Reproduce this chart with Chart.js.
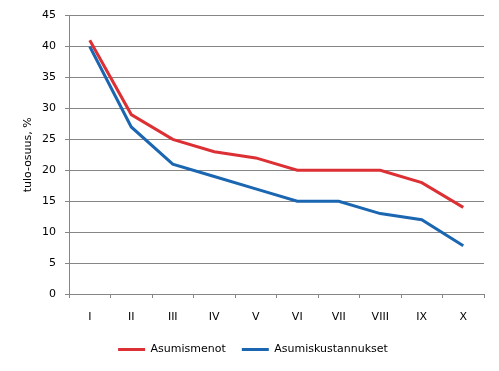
<!DOCTYPE html>
<html>
<head>
<meta charset="utf-8">
<script src="https://cdn.jsdelivr.net/npm/chart.js@4"></script>
<style>
  html, body { margin: 0; padding: 0; background: #fff; }
  #wrap { width: 499px; height: 371px; }
</style>
</head>
<body>
<div id="wrap"><canvas id="chart" width="499" height="371"></canvas></div>
<script>
const categories = ["I", "II", "III", "IV", "V", "VI", "VII", "VIII", "IX", "X"];
const asumismenot = [41, 29, 25, 23, 22, 20, 20, 20, 18, 14];
const asumiskustannukset = [40, 27, 21, 19, 17, 15, 15, 13, 12, 7.8];
const yTicks = [0, 5, 10, 15, 20, 25, 30, 35, 40, 45];

const red = "#dc3035";
const blue = "#1b66b1";
const gridGray = "#868686";
const font = { family: "'DejaVu Sans', Verdana, sans-serif", size: 11 };

Chart.defaults.font = font;
Chart.defaults.color = "#000";

new Chart(document.getElementById("chart"), {
  type: "line",
  data: {
    labels: categories,
    datasets: [
      { label: "Asumismenot", data: asumismenot, borderColor: red, backgroundColor: red, borderWidth: 3, pointRadius: 0, tension: 0 },
      { label: "Asumiskustannukset", data: asumiskustannukset, borderColor: blue, backgroundColor: blue, borderWidth: 3, pointRadius: 0, tension: 0 }
    ]
  },
  options: {
    responsive: false,
    animation: false,
    layout: { padding: { top: 10, right: 15, left: 22, bottom: 6 } },
    plugins: {
      tooltip: { enabled: false },
      legend: {
        position: "bottom",
        labels: {
          usePointStyle: true,
          pointStyle: "line",
          pointStyleWidth: 27,
          boxHeight: 8,
          padding: 16,
          font: font,
          color: "#000"
        }
      }
    },
    scales: {
      x: {
        offset: true,
        grid: { offset: true, drawOnChartArea: false, color: gridGray, tickLength: 4 },
        border: { color: gridGray },
        ticks: { padding: 13, font: font },
        afterFit: scale => { scale.height = 34; }
      },
      y: {
        min: 0,
        max: 45,
        afterBuildTicks: scale => { scale.ticks = yTicks.map(v => ({ value: v })); },
        grid: { color: gridGray, tickLength: 4 },
        border: { color: gridGray },
        ticks: { padding: 9, font: font },
        title: { display: true, text: "tulo-osuus, %", font: font, padding: { top: 0, bottom: 0 } },
        afterFit: scale => { scale.width = 47; }
      }
    }
  }
});
</script>
</body>
</html>
